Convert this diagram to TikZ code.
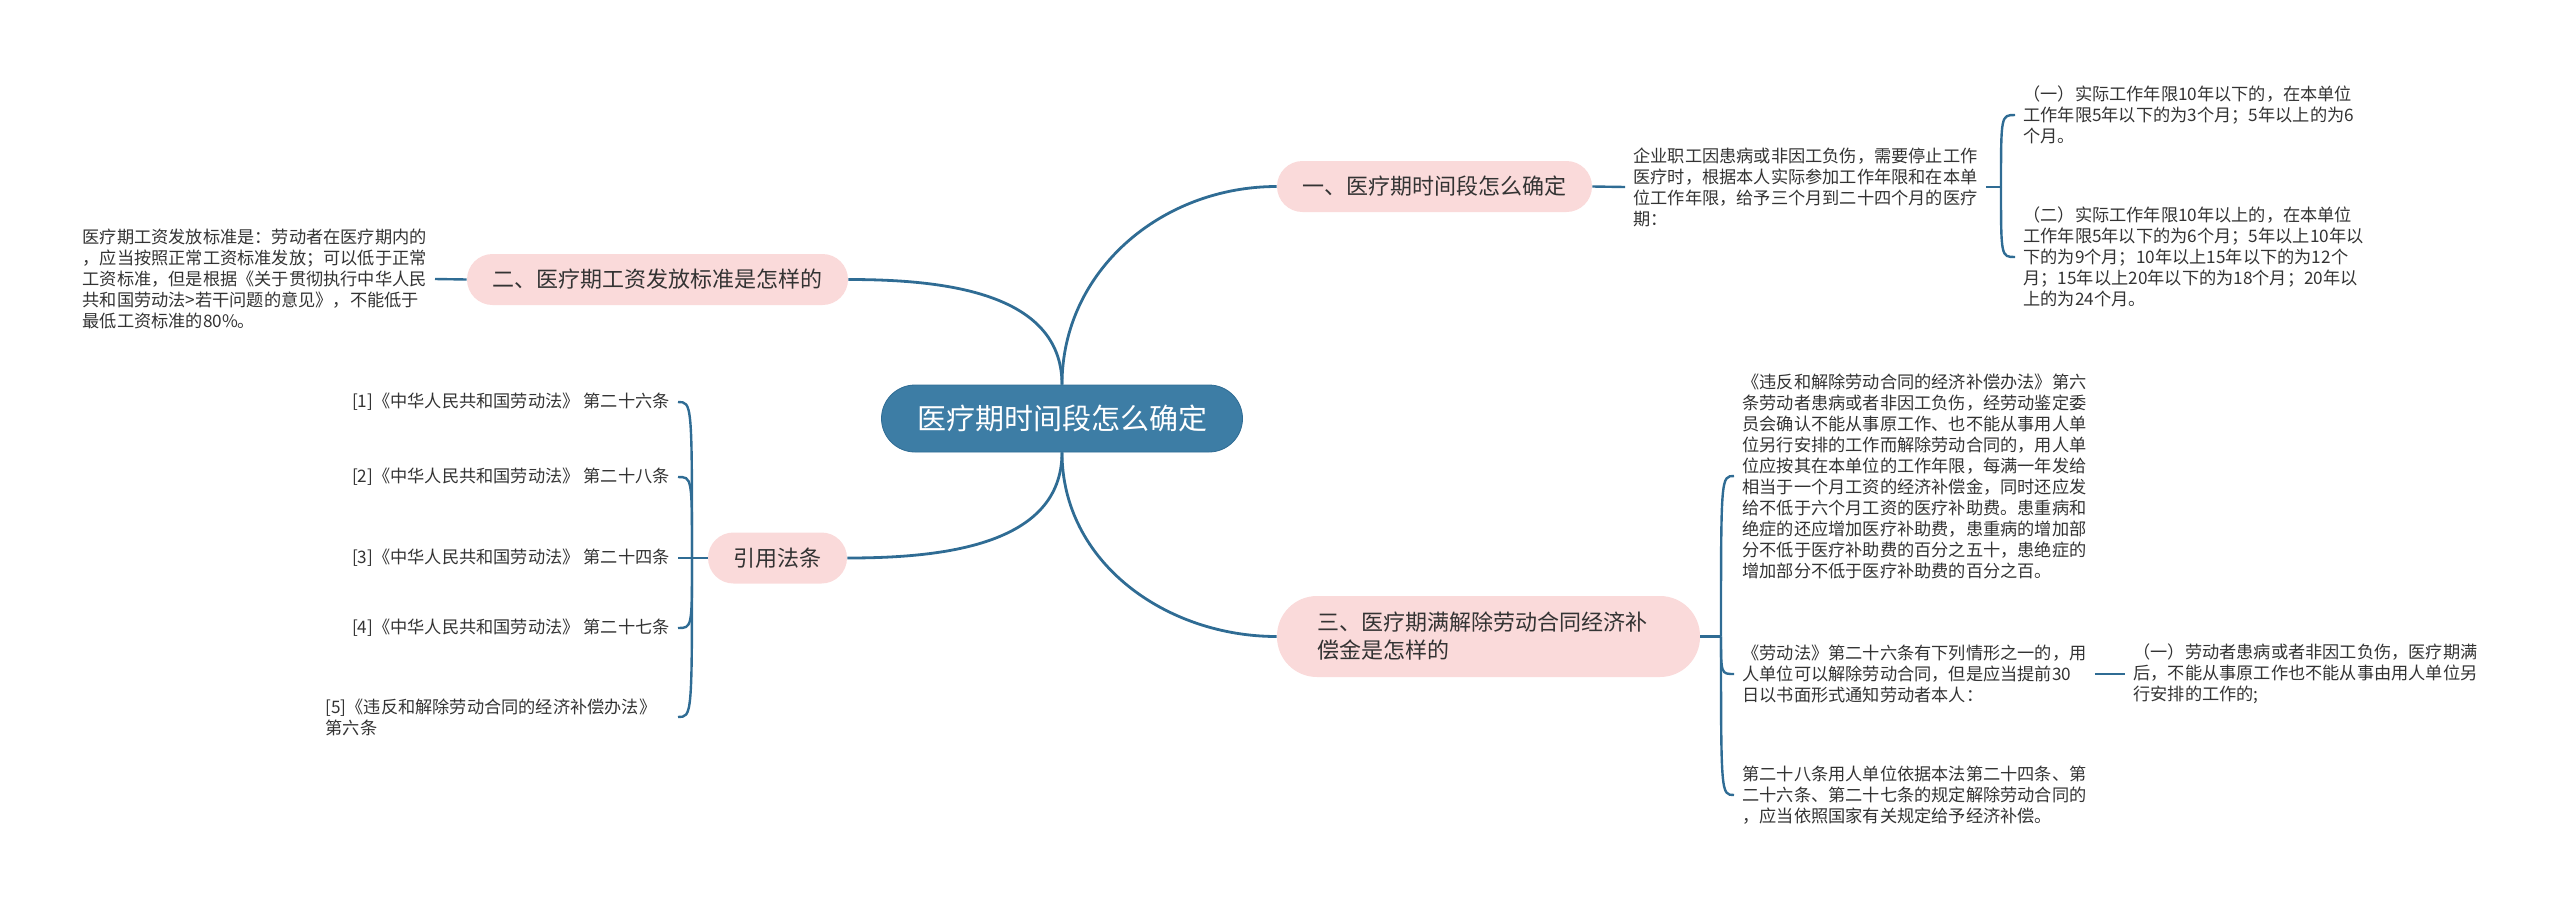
\documentclass[tikz,border=0pt]{standalone}
\usepackage{fontspec}
\setmainfont{Noto Sans CJK SC}
\usepackage{xcolor}
\usetikzlibrary{positioning}

\definecolor{rootblue}{HTML}{3D7DA5}
\definecolor{linkblue}{HTML}{2F6C94}
\definecolor{pinkfill}{HTML}{FADADA}
\definecolor{textgray}{HTML}{333333}

\tikzset{
  root/.style={fill=rootblue, draw=linkblue, line width=0.4pt, rounded corners=16.75pt,
    minimum width=180.5pt, minimum height=33.5pt, text=white,
    font=\fontsize{14.5}{17}\selectfont},
  branch/.style={fill=pinkfill, rounded corners=12.75pt, minimum height=25.5pt,
    inner xsep=12.75pt, text=textgray, font=\fontsize{11}{14}\selectfont},
  leaf/.style={inner xsep=4pt, inner ysep=0pt, align=left, text=textgray,
    font=\fontsize{8.6}{10.5}\selectfont},
  link/.style={draw=linkblue, line width=1.4pt},
  hook/.style={draw=linkblue, line width=1.2pt},
}

\begin{document}
\begin{tikzpicture}[x=0.5pt, y=-0.5pt]
    \useasboundingbox (0,0) rectangle (2560,911);

    \node[root] (med) at (1062, 418.5) {医疗期时间段怎么确定};

    \node[branch] (one) at (1434.5, 186.5) {一、医疗期时间段怎么确定};
    \node[branch] (two) at (657.5, 279.5) {二、医疗期工资发放标准是怎样的};
    \node[branch, rounded corners=20pt, minimum height=40.5pt, inner xsep=20pt,
      text width=171.5pt, align=left] (three) at (1488.5, 636.5)
      {三、医疗期满解除劳动合同经济补\\偿金是怎样的};
    \node[branch] (law) at (777.5, 558) {引用法条};

    % branch one
    \node[leaf, anchor=west] (oneA) at (1625, 187)
      {企业职工因患病或非因工负伤，需要停止工作\\医疗时，根据本人实际参加工作年限和在本单\\位工作年限，给予三个月到二十四个月的医疗\\期：};
    \coordinate (jone) at (2001, 187);
    \node[leaf, anchor=west] (oneA1) at (2015, 115)
      {（一）实际工作年限10年以下的，在本单位\\工作年限5年以下的为3个月；5年以上的为6\\个月。};
    \node[leaf, anchor=west] (oneA2) at (2015, 257)
      {（二）实际工作年限10年以上的，在本单位\\工作年限5年以下的为6个月；5年以上10年以\\下的为9个月；10年以上15年以下的为12个\\月；15年以上20年以下的为18个月；20年以\\上的为24个月。};

    % branch two
    \node[leaf, anchor=east, text width=172pt] (twoA) at (435, 279)
      {医疗期工资发放标准是：劳动者在医疗期内的\\，应当按照正常工资标准发放；可以低于正常\\工资标准，但是根据《关于贯彻执行中华人民\\共和国劳动法>若干问题的意见》，不能低于\\最低工资标准的80\%。};

    % branch three
    \coordinate (jthree) at (1721, 636.5);
    \node[leaf, anchor=west] (threeA) at (1734, 476)
      {《违反和解除劳动合同的经济补偿办法》第六\\条劳动者患病或者非因工负伤，经劳动鉴定委\\员会确认不能从事原工作、也不能从事用人单\\位另行安排的工作而解除劳动合同的，用人单\\位应按其在本单位的工作年限，每满一年发给\\相当于一个月工资的经济补偿金，同时还应发\\给不低于六个月工资的医疗补助费。患重病和\\绝症的还应增加医疗补助费，患重病的增加部\\分不低于医疗补助费的百分之五十，患绝症的\\增加部分不低于医疗补助费的百分之百。};
    \node[leaf, anchor=west] (threeB) at (1734, 674)
      {《劳动法》第二十六条有下列情形之一的，用\\人单位可以解除劳动合同，但是应当提前30\\日以书面形式通知劳动者本人：};
    \node[leaf, anchor=west] (threeB1) at (2125, 674)
      {（一）劳动者患病或者非因工负伤，医疗期满\\后，不能从事原工作也不能从事由用人单位另\\行安排的工作的;};
    \node[leaf, anchor=west] (threeC) at (1734, 795)
      {第二十八条用人单位依据本法第二十四条、第\\二十六条、第二十七条的规定解除劳动合同的\\，应当依照国家有关规定给予经济补偿。};

    % references
    \coordinate (jlaw) at (692, 558);
    \node[leaf, anchor=east] (ref1) at (678, 402) {[1]《中华人民共和国劳动法》 第二十六条};
    \node[leaf, anchor=east] (ref2) at (678, 477) {[2]《中华人民共和国劳动法》 第二十八条};
    \node[leaf, anchor=east] (ref3) at (678, 558) {[3]《中华人民共和国劳动法》 第二十四条};
    \node[leaf, anchor=east] (ref4) at (678, 628) {[4]《中华人民共和国劳动法》 第二十七条};
    \node[leaf, anchor=east, text width=172pt] (ref5) at (678, 717)
      {[5]《违反和解除劳动合同的经济补偿办法》\\第六条};

    % connectors
    \draw[link] (med.north) to[out=90, in=180] (one.west);
    \draw[link] (med.north) to[out=90, in=0] (two.east);
    \draw[link] (med.south) to[out=-90, in=180] (three.west);
    \draw[link] (med.south) to[out=-90, in=0] (law.east);

    \draw[hook] (one.east) -- (oneA.west);
    \draw[hook] (oneA.east) -- (jone);
    \draw[hook] (jone) .. controls (jone |- oneA1.west) .. (oneA1.west);
    \draw[hook] (jone) .. controls (jone |- oneA2.west) .. (oneA2.west);

    \draw[hook] (two.west) -- (twoA.east);

    \draw[hook] (three.east) -- (jthree);
    \draw[hook] (jthree) .. controls (jthree |- threeA.west) .. (threeA.west);
    \draw[hook] (jthree) .. controls (jthree |- threeB.west) .. (threeB.west);
    \draw[hook] (jthree) .. controls (jthree |- threeC.west) .. (threeC.west);
    \draw[hook] (threeB.east) -- (threeB1.west);

    \draw[hook] (law.west) -- (jlaw);
    \foreach \r in {ref1, ref2, ref3, ref4, ref5}
        \draw[hook] (jlaw) .. controls (jlaw |- \r.east) .. (\r.east);
\end{tikzpicture}
\end{document}
